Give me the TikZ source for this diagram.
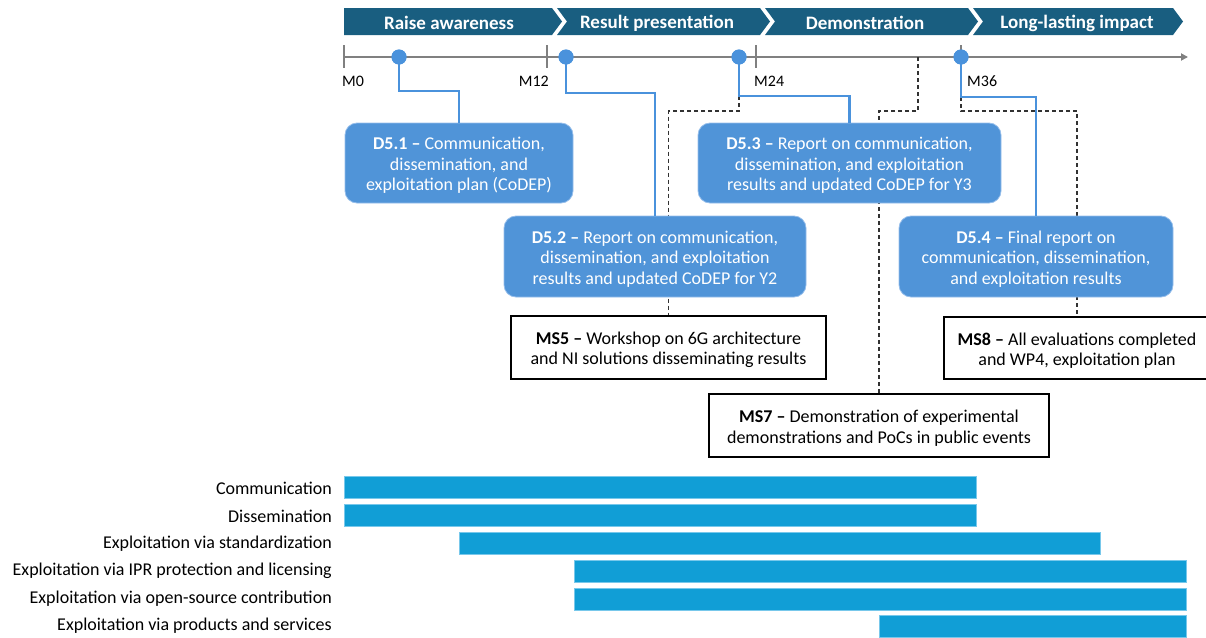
\documentclass[tikz,border=0pt]{standalone}
\usepackage{fontspec}
\setmainfont{Carlito}
\usetikzlibrary{arrows.meta}
\definecolor{chev}{RGB}{25,94,128}
\definecolor{boxblue}{RGB}{80,148,216}
\definecolor{boxedge}{RGB}{150,190,235}
\definecolor{conn}{RGB}{74,146,220}
\definecolor{axisgray}{RGB}{128,128,128}
\definecolor{barblue}{RGB}{17,158,214}
\definecolor{baredge}{RGB}{120,200,235}
\definecolor{dashgray}{RGB}{50,50,50}
\newcommand{\tstrut}{\rule{0pt}{17.5pt}}
\tikzset{
  chevshape/.style={fill=chev},
  chevtext/.style={text=white, font=\fontsize{19}{20}\selectfont\bfseries, inner sep=0},
  axisline/.style={draw=axisgray, line width=2},
  tickline/.style={draw=axisgray, line width=2.5},
  ticklab/.style={font=\fontsize{16}{18}\selectfont, inner sep=0},
  dotnode/.style={circle, fill=conn, minimum size=15, inner sep=0},
  connline/.style={draw=conn, line width=2.5},
  dashline/.style={draw=dashgray, line width=1.1, dash pattern=on 4pt off 3pt},
  dbox/.style={rounded corners=12, fill=boxblue, draw=boxedge, line width=0.8, text=white, align=center,
    font=\fontsize{18}{20.5}\selectfont, inner sep=0},
  msbox/.style={draw=black, line width=1.2, fill=white, align=center,
    font=\fontsize{18}{20.5}\selectfont, inner sep=0},
  barnode/.style={fill=barblue, draw=baredge, line width=0.6, minimum height=22, inner sep=0, anchor=west},
  barlab/.style={font=\fontsize{18}{20}\selectfont, inner sep=0, anchor=east},
}
\begin{document}
\begin{tikzpicture}[x=1pt,y=-1pt]
\useasboundingbox (0,0) rectangle (1206,637);
\clip (0,0) rectangle (1206,637);

% chevrons
\fill[chevshape] (344,8) -- (552,8) -- (562,21.5) -- (552,35) -- (344,35) -- cycle;
\fill[chevshape] (557,8) -- (760,8) -- (770,21.5) -- (760,35) -- (557,35) -- (567,21.5) -- cycle;
\fill[chevshape] (765,8) -- (968,8) -- (978,21.5) -- (968,35) -- (765,35) -- (775,21.5) -- cycle;
\fill[chevshape] (973,8) -- (1173,8) -- (1183,21.5) -- (1173,35) -- (973,35) -- (983,21.5) -- cycle;
\node[chevtext] (c1) at (449,23) {Raise awareness};
\node[chevtext] (c2) at (657,23) {Result presentation};
\node[chevtext] (c3) at (865,23) {Demonstration};
\node[chevtext] (c4) at (1077,23) {Long-lasting impact};

% axis
\coordinate (ax0) at (344,57);
\coordinate (axend) at (1188,57);
\draw[axisline, -{Triangle[length=7,width=7]}] (ax0) -- (axend);
\draw[tickline] (344,45) -- (344,68);
\draw[tickline] (547,45) -- (547,68);
\draw[tickline] (756,45) -- (756,68);
\draw[tickline] (961,45) -- (961,68);
\node[ticklab, anchor=west] (m0) at (342,81) {M0};
\node[ticklab, anchor=east] (m12) at (549,81) {M12};
\node[ticklab, anchor=west] (m24) at (754,81) {M24};
\node[ticklab, anchor=west] (m36) at (967,81) {M36};

% helper points
\coordinate (k1) at (399,91);
\coordinate (k2) at (566,93);
\coordinate (k3) at (739,96);
\coordinate (k4) at (961,97);
\coordinate (ax918) at (918,57);
\coordinate (h5) at (739,111);
\coordinate (h7) at (918,111);
\coordinate (h8) at (961,111);

\node[msbox, minimum width=315, minimum height=63] (ms5) at (668.5,347.5)
  {\tstrut\textbf{MS5 –} Workshop on 6G architecture\\ and NI solutions disseminating results};
\node[msbox, minimum width=340, minimum height=63] (ms7) at (879,425.5)
  {\tstrut\textbf{MS7 –} Demonstration of experimental\\ demonstrations and PoCs in public events};
\node[msbox, minimum width=266, minimum height=62] (ms8) at (1077,348)
  {\tstrut\textbf{MS8 –} All evaluations completed\\ and WP4, exploitation plan};

% dashed connectors (behind D boxes)
\draw[dashline] (k3) -- (h5) -| (ms5.north);
\draw[dashline] (ax918) -- (h7) -| (ms7.north);
\draw[dashline] (k4) -- (h8) -| (ms8.north);

% dots
\node[dotnode] (dot1) at (399,57) {};
\node[dotnode] (dot2) at (566,57) {};
\node[dotnode] (dot3) at (739,57) {};
\node[dotnode] (dot4) at (961,57) {};

% D boxes
\node[dbox, minimum width=228, minimum height=80] (d51) at (459,163)
  {\tstrut\textbf{D5.1 –} Communication,\\ dissemination, and\\ exploitation plan (CoDEP)};
\node[dbox, minimum width=302, minimum height=81] (d52) at (655,256.5)
  {\tstrut\textbf{D5.2 –} Report on communication,\\ dissemination, and exploitation\\ results and updated CoDEP for Y2};
\node[dbox, minimum width=303, minimum height=80] (d53) at (849.5,163)
  {\tstrut\textbf{D5.3 –} Report on communication,\\ dissemination, and exploitation\\ results and updated CoDEP for Y3};
\node[dbox, minimum width=274, minimum height=81] (d54) at (1036,256.5)
  {\tstrut\textbf{D5.4 –} Final report on\\ communication, dissemination,\\ and exploitation results};

% blue connectors
\draw[connline] (dot1.center) -- (k1) -| (d51.north);
\draw[connline] (dot2.center) -- (k2) -| (d52.north);
\draw[connline] (dot3.center) -- (k3) -| (d53.north);
\draw[connline] (dot4.center) -- (k4) -| (d54.north);
\fill[conn] (dot1) circle (7.5);
\fill[conn] (dot2) circle (7.5);
\fill[conn] (dot3) circle (7.5);
\fill[conn] (dot4) circle (7.5);

% bars
\node[barlab] (l1) at (332,488) {Communication};
\node[barlab] (l2) at (332,516) {Dissemination};
\node[barlab] (l3) at (332,544) {Exploitation via standardization};
\node[barlab] (l4) at (332,571) {Exploitation via IPR protection and licensing};
\node[barlab] (l5) at (332,599) {Exploitation via open-source contribution};
\node[barlab] (l6) at (332,626) {Exploitation via products and services};
\node[barnode, minimum width=632] (b1) at (344,487) {};
\node[barnode, minimum width=632] (b2) at (344,515.5) {};
\node[barnode, minimum width=641] (b3) at (459,543.5) {};
\node[barnode, minimum width=612] (b4) at (574,571) {};
\node[barnode, minimum width=612] (b5) at (574,599) {};
\node[barnode, minimum width=307] (b6) at (879,626.5) {};
\end{tikzpicture}
\end{document}
